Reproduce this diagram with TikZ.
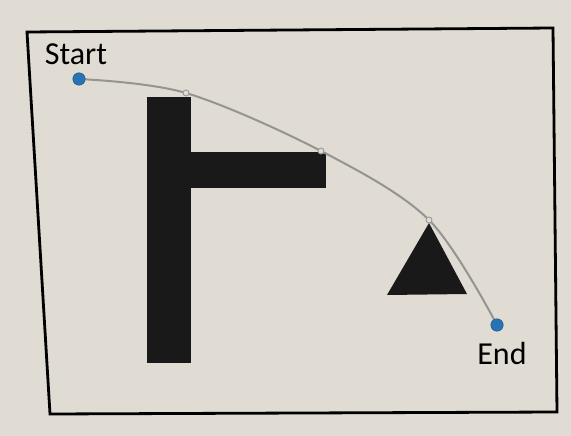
\documentclass[tikz,border=0pt]{standalone}
\usepackage{fontspec}
\setmainfont{Carlito}
\usepackage{tikz}
\usetikzlibrary{arrows.meta}
\usetikzlibrary{positioning}

\definecolor{paper}{RGB}{224,219,211}
\definecolor{pinblue}{RGB}{40,115,180}
\definecolor{stringgrey}{RGB}{150,148,145}

\begin{document}
\begin{tikzpicture}[x=1pt, y=-1pt,
    pin/.style={circle, fill=pinblue, draw=pinblue!70!black, inner sep=0pt, minimum size=12.5pt},
    ring/.style={circle, draw=gray!80, fill=paper, line width=0.9pt, inner sep=0pt, minimum size=6pt},
    string/.style={draw=stringgrey, line width=2pt, line cap=round},
    word/.style={font=\fontsize{32}{38}\selectfont, text=black, inner sep=0pt}]
% paper
\fill[paper] (0,0) rectangle (571,436);
\useasboundingbox (0,0) rectangle (571,436);
% frame
\draw[line width=2.8pt, line join=miter] (27,32) -- (553,28) -- (557,412) -- (50,414) -- cycle;
% obstacles
\fill[black!90] (147,97) rectangle (191,363);
\fill[black!90] (190,152) rectangle (326,188);
\fill[black!90] (429,223) -- (467,294) -- (387,295) -- cycle;
% path points
\coordinate (s) at (79,79);
\coordinate (a) at (186,93);
\coordinate (b) at (321,151);
\coordinate (c) at (429,220);
\coordinate (e) at (497,325);
% string
\draw[string] plot[smooth, tension=0.55] coordinates {(s) (a) (b) (c) (e)};
% rings
\node[ring] (ring1) at (a) {};
\node[ring] (ring2) at (b) {};
\node[ring] (ring3) at (c) {};
% start and end
\node[pin] (start) at (s) {};
\node[pin] (end) at (e) {};
\node[word, above=8pt of start, xshift=-3pt] (startlabel) {Start};
\node[word, below=11pt of end, xshift=5pt] (endlabel) {End};
\end{tikzpicture}
\end{document}
